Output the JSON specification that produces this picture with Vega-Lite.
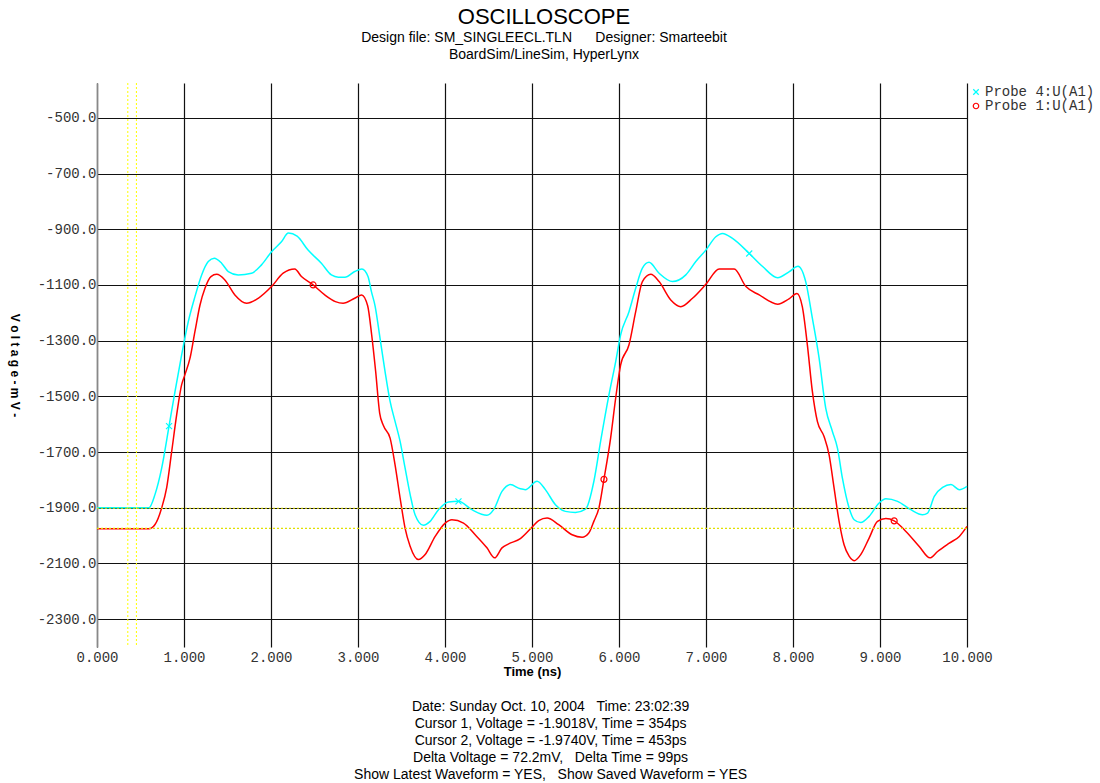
{
  "$schema": "https://vega.github.io/schema/vega-lite/v6.json",
  "background": "white",
  "padding": {"left": 8, "top": 5, "right": 5, "bottom": 3},
  "datasets": {
    "wave": [
      {"probe": "Probe 4:U(A1)", "t": 0, "v": -1900},
      {"probe": "Probe 4:U(A1)", "t": 0.3, "v": -1900},
      {"probe": "Probe 4:U(A1)", "t": 0.598, "v": -1900},
      {"probe": "Probe 4:U(A1)", "t": 0.667, "v": -1852},
      {"probe": "Probe 4:U(A1)", "t": 0.744, "v": -1757},
      {"probe": "Probe 4:U(A1)", "t": 0.828, "v": -1607},
      {"probe": "Probe 4:U(A1)", "t": 0.897, "v": -1482},
      {"probe": "Probe 4:U(A1)", "t": 0.973, "v": -1351},
      {"probe": "Probe 4:U(A1)", "t": 1.05, "v": -1231},
      {"probe": "Probe 4:U(A1)", "t": 1.126, "v": -1142},
      {"probe": "Probe 4:U(A1)", "t": 1.203, "v": -1064},
      {"probe": "Probe 4:U(A1)", "t": 1.279, "v": -1016},
      {"probe": "Probe 4:U(A1)", "t": 1.348, "v": -1004},
      {"probe": "Probe 4:U(A1)", "t": 1.432, "v": -1022},
      {"probe": "Probe 4:U(A1)", "t": 1.509, "v": -1052},
      {"probe": "Probe 4:U(A1)", "t": 1.623, "v": -1064},
      {"probe": "Probe 4:U(A1)", "t": 1.776, "v": -1058},
      {"probe": "Probe 4:U(A1)", "t": 1.891, "v": -1028},
      {"probe": "Probe 4:U(A1)", "t": 2.006, "v": -981},
      {"probe": "Probe 4:U(A1)", "t": 2.12, "v": -945},
      {"probe": "Probe 4:U(A1)", "t": 2.2, "v": -914},
      {"probe": "Probe 4:U(A1)", "t": 2.3, "v": -925},
      {"probe": "Probe 4:U(A1)", "t": 2.426, "v": -975},
      {"probe": "Probe 4:U(A1)", "t": 2.579, "v": -1022},
      {"probe": "Probe 4:U(A1)", "t": 2.694, "v": -1064},
      {"probe": "Probe 4:U(A1)", "t": 2.774, "v": -1072},
      {"probe": "Probe 4:U(A1)", "t": 2.85, "v": -1072},
      {"probe": "Probe 4:U(A1)", "t": 2.962, "v": -1052},
      {"probe": "Probe 4:U(A1)", "t": 3.045, "v": -1043},
      {"probe": "Probe 4:U(A1)", "t": 3.115, "v": -1070},
      {"probe": "Probe 4:U(A1)", "t": 3.155, "v": -1125},
      {"probe": "Probe 4:U(A1)", "t": 3.196, "v": -1175},
      {"probe": "Probe 4:U(A1)", "t": 3.253, "v": -1291},
      {"probe": "Probe 4:U(A1)", "t": 3.311, "v": -1411},
      {"probe": "Probe 4:U(A1)", "t": 3.369, "v": -1518},
      {"probe": "Probe 4:U(A1)", "t": 3.426, "v": -1590},
      {"probe": "Probe 4:U(A1)", "t": 3.484, "v": -1662},
      {"probe": "Probe 4:U(A1)", "t": 3.541, "v": -1757},
      {"probe": "Probe 4:U(A1)", "t": 3.599, "v": -1852},
      {"probe": "Probe 4:U(A1)", "t": 3.656, "v": -1925},
      {"probe": "Probe 4:U(A1)", "t": 3.752, "v": -1963},
      {"probe": "Probe 4:U(A1)", "t": 3.829, "v": -1949},
      {"probe": "Probe 4:U(A1)", "t": 3.925, "v": -1907},
      {"probe": "Probe 4:U(A1)", "t": 4.04, "v": -1879},
      {"probe": "Probe 4:U(A1)", "t": 4.155, "v": -1877},
      {"probe": "Probe 4:U(A1)", "t": 4.309, "v": -1907},
      {"probe": "Probe 4:U(A1)", "t": 4.482, "v": -1927},
      {"probe": "Probe 4:U(A1)", "t": 4.559, "v": -1907},
      {"probe": "Probe 4:U(A1)", "t": 4.655, "v": -1841},
      {"probe": "Probe 4:U(A1)", "t": 4.75, "v": -1817},
      {"probe": "Probe 4:U(A1)", "t": 4.866, "v": -1832},
      {"probe": "Probe 4:U(A1)", "t": 4.923, "v": -1835},
      {"probe": "Probe 4:U(A1)", "t": 5.058, "v": -1805},
      {"probe": "Probe 4:U(A1)", "t": 5.154, "v": -1835},
      {"probe": "Probe 4:U(A1)", "t": 5.269, "v": -1889},
      {"probe": "Probe 4:U(A1)", "t": 5.384, "v": -1913},
      {"probe": "Probe 4:U(A1)", "t": 5.499, "v": -1917},
      {"probe": "Probe 4:U(A1)", "t": 5.616, "v": -1905},
      {"probe": "Probe 4:U(A1)", "t": 5.712, "v": -1804},
      {"probe": "Probe 4:U(A1)", "t": 5.789, "v": -1661},
      {"probe": "Probe 4:U(A1)", "t": 5.885, "v": -1494},
      {"probe": "Probe 4:U(A1)", "t": 5.962, "v": -1375},
      {"probe": "Probe 4:U(A1)", "t": 6.019, "v": -1279},
      {"probe": "Probe 4:U(A1)", "t": 6.115, "v": -1196},
      {"probe": "Probe 4:U(A1)", "t": 6.192, "v": -1112},
      {"probe": "Probe 4:U(A1)", "t": 6.269, "v": -1040},
      {"probe": "Probe 4:U(A1)", "t": 6.345, "v": -1019},
      {"probe": "Probe 4:U(A1)", "t": 6.461, "v": -1058},
      {"probe": "Probe 4:U(A1)", "t": 6.614, "v": -1088},
      {"probe": "Probe 4:U(A1)", "t": 6.768, "v": -1064},
      {"probe": "Probe 4:U(A1)", "t": 6.883, "v": -1016},
      {"probe": "Probe 4:U(A1)", "t": 6.998, "v": -975},
      {"probe": "Probe 4:U(A1)", "t": 7.113, "v": -927},
      {"probe": "Probe 4:U(A1)", "t": 7.19, "v": -915},
      {"probe": "Probe 4:U(A1)", "t": 7.305, "v": -933},
      {"probe": "Probe 4:U(A1)", "t": 7.497, "v": -987},
      {"probe": "Probe 4:U(A1)", "t": 7.651, "v": -1034},
      {"probe": "Probe 4:U(A1)", "t": 7.823, "v": -1074},
      {"probe": "Probe 4:U(A1)", "t": 7.958, "v": -1052},
      {"probe": "Probe 4:U(A1)", "t": 8.058, "v": -1033},
      {"probe": "Probe 4:U(A1)", "t": 8.146, "v": -1088},
      {"probe": "Probe 4:U(A1)", "t": 8.223, "v": -1220},
      {"probe": "Probe 4:U(A1)", "t": 8.3, "v": -1363},
      {"probe": "Probe 4:U(A1)", "t": 8.376, "v": -1542},
      {"probe": "Probe 4:U(A1)", "t": 8.453, "v": -1626},
      {"probe": "Probe 4:U(A1)", "t": 8.511, "v": -1686},
      {"probe": "Probe 4:U(A1)", "t": 8.568, "v": -1794},
      {"probe": "Probe 4:U(A1)", "t": 8.645, "v": -1901},
      {"probe": "Probe 4:U(A1)", "t": 8.703, "v": -1943},
      {"probe": "Probe 4:U(A1)", "t": 8.779, "v": -1953},
      {"probe": "Probe 4:U(A1)", "t": 8.875, "v": -1931},
      {"probe": "Probe 4:U(A1)", "t": 8.99, "v": -1883},
      {"probe": "Probe 4:U(A1)", "t": 9.067, "v": -1868},
      {"probe": "Probe 4:U(A1)", "t": 9.202, "v": -1877},
      {"probe": "Probe 4:U(A1)", "t": 9.355, "v": -1907},
      {"probe": "Probe 4:U(A1)", "t": 9.489, "v": -1925},
      {"probe": "Probe 4:U(A1)", "t": 9.547, "v": -1919},
      {"probe": "Probe 4:U(A1)", "t": 9.624, "v": -1859},
      {"probe": "Probe 4:U(A1)", "t": 9.72, "v": -1827},
      {"probe": "Probe 4:U(A1)", "t": 9.816, "v": -1817},
      {"probe": "Probe 4:U(A1)", "t": 9.912, "v": -1835},
      {"probe": "Probe 4:U(A1)", "t": 10.0, "v": -1823},
      {"probe": "Probe 1:U(A1)", "t": 0, "v": -1975},
      {"probe": "Probe 1:U(A1)", "t": 0.3, "v": -1975},
      {"probe": "Probe 1:U(A1)", "t": 0.598, "v": -1975},
      {"probe": "Probe 1:U(A1)", "t": 0.667, "v": -1960},
      {"probe": "Probe 1:U(A1)", "t": 0.744, "v": -1900},
      {"probe": "Probe 1:U(A1)", "t": 0.801, "v": -1828},
      {"probe": "Probe 1:U(A1)", "t": 0.859, "v": -1697},
      {"probe": "Probe 1:U(A1)", "t": 0.916, "v": -1566},
      {"probe": "Probe 1:U(A1)", "t": 0.973, "v": -1458},
      {"probe": "Probe 1:U(A1)", "t": 1.011, "v": -1422},
      {"probe": "Probe 1:U(A1)", "t": 1.069, "v": -1363},
      {"probe": "Probe 1:U(A1)", "t": 1.126, "v": -1267},
      {"probe": "Probe 1:U(A1)", "t": 1.184, "v": -1172},
      {"probe": "Probe 1:U(A1)", "t": 1.241, "v": -1112},
      {"probe": "Probe 1:U(A1)", "t": 1.31, "v": -1070},
      {"probe": "Probe 1:U(A1)", "t": 1.375, "v": -1062},
      {"probe": "Probe 1:U(A1)", "t": 1.47, "v": -1082},
      {"probe": "Probe 1:U(A1)", "t": 1.585, "v": -1136},
      {"probe": "Probe 1:U(A1)", "t": 1.719, "v": -1166},
      {"probe": "Probe 1:U(A1)", "t": 1.853, "v": -1148},
      {"probe": "Probe 1:U(A1)", "t": 2.006, "v": -1106},
      {"probe": "Probe 1:U(A1)", "t": 2.14, "v": -1058},
      {"probe": "Probe 1:U(A1)", "t": 2.273, "v": -1043},
      {"probe": "Probe 1:U(A1)", "t": 2.35, "v": -1070},
      {"probe": "Probe 1:U(A1)", "t": 2.484, "v": -1100},
      {"probe": "Probe 1:U(A1)", "t": 2.618, "v": -1136},
      {"probe": "Probe 1:U(A1)", "t": 2.74, "v": -1160},
      {"probe": "Probe 1:U(A1)", "t": 2.828, "v": -1166},
      {"probe": "Probe 1:U(A1)", "t": 2.962, "v": -1148},
      {"probe": "Probe 1:U(A1)", "t": 3.042, "v": -1136},
      {"probe": "Probe 1:U(A1)", "t": 3.111, "v": -1175},
      {"probe": "Probe 1:U(A1)", "t": 3.157, "v": -1279},
      {"probe": "Probe 1:U(A1)", "t": 3.203, "v": -1411},
      {"probe": "Probe 1:U(A1)", "t": 3.249, "v": -1560},
      {"probe": "Probe 1:U(A1)", "t": 3.292, "v": -1605},
      {"probe": "Probe 1:U(A1)", "t": 3.369, "v": -1650},
      {"probe": "Probe 1:U(A1)", "t": 3.426, "v": -1746},
      {"probe": "Probe 1:U(A1)", "t": 3.484, "v": -1865},
      {"probe": "Probe 1:U(A1)", "t": 3.541, "v": -1973},
      {"probe": "Probe 1:U(A1)", "t": 3.599, "v": -2038},
      {"probe": "Probe 1:U(A1)", "t": 3.695, "v": -2086},
      {"probe": "Probe 1:U(A1)", "t": 3.772, "v": -2068},
      {"probe": "Probe 1:U(A1)", "t": 3.887, "v": -2003},
      {"probe": "Probe 1:U(A1)", "t": 4.002, "v": -1955},
      {"probe": "Probe 1:U(A1)", "t": 4.079, "v": -1943},
      {"probe": "Probe 1:U(A1)", "t": 4.213, "v": -1955},
      {"probe": "Probe 1:U(A1)", "t": 4.347, "v": -1997},
      {"probe": "Probe 1:U(A1)", "t": 4.482, "v": -2044},
      {"probe": "Probe 1:U(A1)", "t": 4.57, "v": -2080},
      {"probe": "Probe 1:U(A1)", "t": 4.655, "v": -2044},
      {"probe": "Probe 1:U(A1)", "t": 4.731, "v": -2030},
      {"probe": "Probe 1:U(A1)", "t": 4.866, "v": -2011},
      {"probe": "Probe 1:U(A1)", "t": 5.0, "v": -1970},
      {"probe": "Probe 1:U(A1)", "t": 5.077, "v": -1946},
      {"probe": "Probe 1:U(A1)", "t": 5.173, "v": -1937},
      {"probe": "Probe 1:U(A1)", "t": 5.307, "v": -1961},
      {"probe": "Probe 1:U(A1)", "t": 5.461, "v": -1997},
      {"probe": "Probe 1:U(A1)", "t": 5.576, "v": -2006},
      {"probe": "Probe 1:U(A1)", "t": 5.653, "v": -1991},
      {"probe": "Probe 1:U(A1)", "t": 5.712, "v": -1948},
      {"probe": "Probe 1:U(A1)", "t": 5.77, "v": -1900},
      {"probe": "Probe 1:U(A1)", "t": 5.827, "v": -1798},
      {"probe": "Probe 1:U(A1)", "t": 5.904, "v": -1649},
      {"probe": "Probe 1:U(A1)", "t": 5.962, "v": -1506},
      {"probe": "Probe 1:U(A1)", "t": 6.019, "v": -1387},
      {"probe": "Probe 1:U(A1)", "t": 6.115, "v": -1315},
      {"probe": "Probe 1:U(A1)", "t": 6.192, "v": -1196},
      {"probe": "Probe 1:U(A1)", "t": 6.269, "v": -1088},
      {"probe": "Probe 1:U(A1)", "t": 6.365, "v": -1062},
      {"probe": "Probe 1:U(A1)", "t": 6.461, "v": -1088},
      {"probe": "Probe 1:U(A1)", "t": 6.595, "v": -1154},
      {"probe": "Probe 1:U(A1)", "t": 6.71, "v": -1178},
      {"probe": "Probe 1:U(A1)", "t": 6.845, "v": -1148},
      {"probe": "Probe 1:U(A1)", "t": 6.998, "v": -1098},
      {"probe": "Probe 1:U(A1)", "t": 7.152, "v": -1043},
      {"probe": "Probe 1:U(A1)", "t": 7.324, "v": -1043},
      {"probe": "Probe 1:U(A1)", "t": 7.459, "v": -1106},
      {"probe": "Probe 1:U(A1)", "t": 7.612, "v": -1136},
      {"probe": "Probe 1:U(A1)", "t": 7.823, "v": -1169},
      {"probe": "Probe 1:U(A1)", "t": 7.954, "v": -1150},
      {"probe": "Probe 1:U(A1)", "t": 8.045, "v": -1131},
      {"probe": "Probe 1:U(A1)", "t": 8.107, "v": -1178},
      {"probe": "Probe 1:U(A1)", "t": 8.165, "v": -1315},
      {"probe": "Probe 1:U(A1)", "t": 8.223, "v": -1483},
      {"probe": "Probe 1:U(A1)", "t": 8.28, "v": -1590},
      {"probe": "Probe 1:U(A1)", "t": 8.357, "v": -1644},
      {"probe": "Probe 1:U(A1)", "t": 8.415, "v": -1710},
      {"probe": "Probe 1:U(A1)", "t": 8.472, "v": -1829},
      {"probe": "Probe 1:U(A1)", "t": 8.53, "v": -1949},
      {"probe": "Probe 1:U(A1)", "t": 8.587, "v": -2033},
      {"probe": "Probe 1:U(A1)", "t": 8.645, "v": -2074},
      {"probe": "Probe 1:U(A1)", "t": 8.703, "v": -2090},
      {"probe": "Probe 1:U(A1)", "t": 8.779, "v": -2068},
      {"probe": "Probe 1:U(A1)", "t": 8.875, "v": -2009},
      {"probe": "Probe 1:U(A1)", "t": 8.971, "v": -1949},
      {"probe": "Probe 1:U(A1)", "t": 9.067, "v": -1939},
      {"probe": "Probe 1:U(A1)", "t": 9.163, "v": -1947},
      {"probe": "Probe 1:U(A1)", "t": 9.298, "v": -1985},
      {"probe": "Probe 1:U(A1)", "t": 9.451, "v": -2039},
      {"probe": "Probe 1:U(A1)", "t": 9.574, "v": -2080},
      {"probe": "Probe 1:U(A1)", "t": 9.662, "v": -2057},
      {"probe": "Probe 1:U(A1)", "t": 9.797, "v": -2027},
      {"probe": "Probe 1:U(A1)", "t": 9.912, "v": -2003},
      {"probe": "Probe 1:U(A1)", "t": 10.0, "v": -1967}
    ],
    "markers": [
      {"probe": "Probe 4:U(A1)", "t": 0.828, "v": -1607},
      {"probe": "Probe 4:U(A1)", "t": 4.155, "v": -1877},
      {"probe": "Probe 4:U(A1)", "t": 7.497, "v": -987},
      {"probe": "Probe 1:U(A1)", "t": 2.484, "v": -1100},
      {"probe": "Probe 1:U(A1)", "t": 5.827, "v": -1798},
      {"probe": "Probe 1:U(A1)", "t": 9.163, "v": -1947}
    ],
    "cursorT": [{"t": 0.354}, {"t": 0.453}],
    "cursorV": [{"v": -1901.8}, {"v": -1974.0}]
  },
  "title": {
    "text": [
      "Date: Sunday Oct. 10, 2004\u00a0\u00a0\u00a0Time: 23:02:39",
      "Cursor 1, Voltage = -1.9018V, Time = 354ps",
      "Cursor 2, Voltage = -1.9740V, Time = 453ps",
      "Delta Voltage = 72.2mV,\u00a0\u00a0\u00a0Delta Time = 99ps",
      "Show Latest Waveform = YES,\u00a0\u00a0\u00a0Show Saved Waveform = YES"
    ],
    "orient": "bottom",
    "anchor": "middle",
    "font": "Liberation Sans",
    "fontSize": 14,
    "fontWeight": "normal",
    "color": "#000",
    "lineHeight": 17,
    "offset": 22,
    "dx": -2
  },
  "vconcat": [
    {
      "width": 870,
      "height": 564,
      "title": {
        "text": "OSCILLOSCOPE",
        "subtitle": ["Design file: SM_SINGLEECL.TLN\u00a0\u00a0\u00a0\u00a0\u00a0\u00a0Designer: Smarteebit", "BoardSim/LineSim, HyperLynx"],
        "anchor": "middle",
        "font": "Liberation Sans",
        "fontSize": 22,
        "fontWeight": "normal",
        "color": "#000",
        "subtitleFont": "Liberation Sans",
        "subtitleFontSize": 14,
        "subtitleColor": "#000",
        "subtitleLineHeight": 17,
        "subtitlePadding": 2,
        "offset": 20,
        "dx": 12
      },
      "layer": [
        {
          "data": {"name": "wave"},
          "mark": {"type": "line", "strokeWidth": 1.5, "interpolate": "monotone"},
          "encoding": {
            "x": {
              "field": "t", "type": "quantitative", "title": "Time  (ns)",
              "scale": {"domain": [0, 10], "nice": false},
              "axis": {
                "values": [0, 1, 2, 3, 4, 5, 6, 7, 8, 9, 10],
                "format": ".3f",
                "grid": true, "gridColor": "#111", "gridWidth": 1.2,
                "domain": false, "ticks": false,
                "labelFont": "Liberation Mono", "labelFontSize": 14, "labelColor": "#333", "labelPadding": 3,
                "labelFlush": false,
                "titleFont": "Liberation Sans", "titleFontSize": 13, "titleFontWeight": "bold", "titleColor": "#000", "titlePadding": 1
              }
            },
            "y": {
              "field": "v", "type": "quantitative", "title": "V o l t a g e - m V -",
              "scale": {"domain": [-2400, -375], "nice": false, "zero": false},
              "axis": {
                "values": [-500, -700, -900, -1100, -1300, -1500, -1700, -1900, -2100, -2300],
                "labelExpr": "toString(datum.value) + '.0'",
                "grid": true, "gridColor": "#111", "gridWidth": 1.2,
                "domain": true, "domainColor": "#888", "domainWidth": 1.5,
                "ticks": false,
                "labelFont": "Liberation Mono", "labelFontSize": 14, "labelColor": "#333", "labelPadding": 1,
                "labelFlush": false,
                "titleFont": "Liberation Sans", "titleFontSize": 12, "titleFontWeight": "bold", "titleColor": "#000",
                "titleAngle": 90, "titlePadding": 30
              }
            },
            "color": {
              "field": "probe", "type": "nominal",
              "scale": {"domain": ["Probe 4:U(A1)", "Probe 1:U(A1)"], "range": ["#00ffff", "#ff0000"]},
              "legend": {"title": null}
            }
          }
        },
        {
          "data": {"name": "cursorT"},
          "mark": {"type": "rule", "color": "#ffff00", "strokeDash": [2, 2], "strokeWidth": 1},
          "encoding": {"x": {"field": "t", "type": "quantitative", "title": "Time  (ns)"}}
        },
        {
          "data": {"name": "cursorV"},
          "mark": {"type": "rule", "color": "#e0e000", "strokeDash": [2, 2], "strokeWidth": 1.2},
          "encoding": {"y": {"field": "v", "type": "quantitative", "title": "V o l t a g e - m V -"}}
        },
        {
          "data": {"name": "markers"},
          "mark": {"type": "point", "filled": false, "size": 36, "strokeWidth": 1.2, "opacity": 1},
          "encoding": {
            "x": {"field": "t", "type": "quantitative", "title": "Time  (ns)"},
            "y": {"field": "v", "type": "quantitative", "title": "V o l t a g e - m V -"},
            "color": {
              "field": "probe", "type": "nominal",
              "scale": {"domain": ["Probe 4:U(A1)", "Probe 1:U(A1)"], "range": ["#00ffff", "#ff0000"]},
              "legend": {"title": null}
            },
            "shape": {
              "field": "probe", "type": "nominal",
              "scale": {"domain": ["Probe 4:U(A1)", "Probe 1:U(A1)"], "range": ["M-1,-1L1,1M-1,1L1,-1", "circle"]},
              "legend": {"title": null}
            }
          }
        }
      ]
    }
  ],
  "config": {
    "view": {"stroke": null},
    "legend": {
      "orient": "right", "offset": -26, "padding": 2,
      "labelFont": "Liberation Mono", "labelFontSize": 14, "labelColor": "#333",
      "rowPadding": 0, "symbolSize": 30, "symbolStrokeWidth": 1.2, "labelOffset": 2
    }
  }
}
